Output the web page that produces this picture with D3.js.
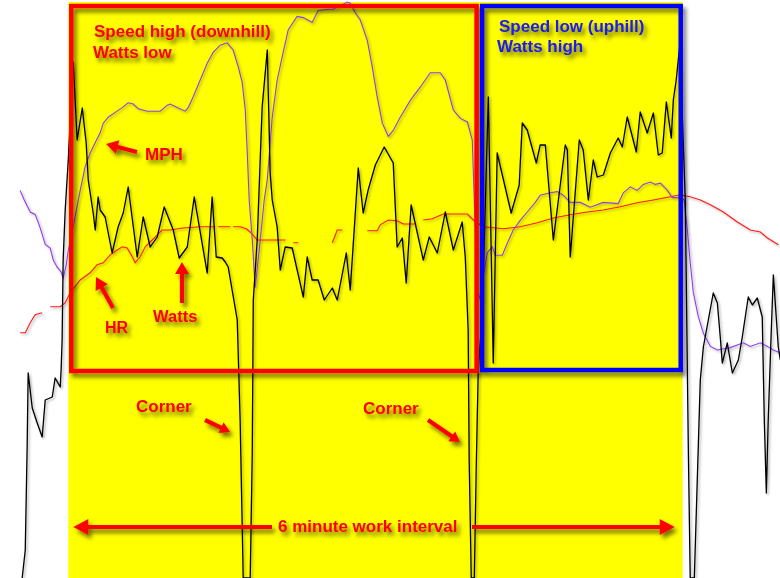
<!DOCTYPE html>
<html>
<head>
<meta charset="utf-8">
<script src="https://cdn.jsdelivr.net/npm/d3@7"></script>
<style>
  body { margin: 0; background: #fff; }
  svg { display: block; }
  text { font-family: "Liberation Sans", Arial, sans-serif; font-weight: bold; }
</style>
</head>
<body>
<div id="chart"></div>
<script>

// DATA: [seconds from interval start, value]
var wattsData = [[-27.0,0],[-25.2,28],[-24.1,130],[-23.5,205],[-21.1,170],[-18.2,155],[-15.3,141],[-13.5,178],[-9.4,181],[-7.7,200],[-4.7,191],[-4.2,208],[-3.6,238],[-3.0,318],[-1.8,368],[0,418],[1.1,456],[2.9,516],[5.2,438],[8.2,470],[10.5,435],[11.7,398],[14.6,365],[15.8,348],[17.5,381],[18.7,368],[21.6,361],[25.7,325],[29.2,351],[32.2,365],[35.1,391],[40.4,321],[43.9,361],[48.0,331],[52.1,341],[56.2,371],[61.5,348],[65.0,320],[69.7,331],[73.8,381],[81.4,305],[84.3,381],[86.7,321],[90.2,320],[92.0,316],[93.7,311],[99.0,258],[100.7,158],[102.5,0],[106.6,0],[107.8,125],[108.4,278],[110.7,338],[113.6,471],[116.6,528],[118.3,405],[119.5,378],[122.4,351],[124.2,308],[127.1,331],[131.2,330],[137.7,281],[140.0,321],[142.9,298],[146.4,298],[150.0,278],[154.7,290],[157.6,278],[162.9,325],[165.2,288],[169.9,410],[172.8,365],[175.7,388],[179.9,413],[185.1,431],[190.4,415],[192.7,331],[195.7,340],[198.0,295],[200.9,373],[208.0,318],[211.5,341],[216.2,325],[220.9,366],[225.6,328],[230.8,356],[232.6,321],[234.3,248],[234.9,118],[236.1,0],[237.9,0],[239.0,108],[240.2,208],[242.5,261],[246.1,481],[249.0,215],[251.3,425],[259.5,365],[264.2,393],[266.0,455],[268.9,448],[274.2,415],[276.5,433],[279.5,433],[284.2,338],[291.2,433],[292.4,428],[294.1,321],[299.4,438],[301.7,428],[304.7,378],[307.6,418],[309.9,401],[313.5,403],[317.6,425],[322.2,440],[324.6,431],[327.5,461],[332.8,426],[335.1,466],[339.2,445],[342.8,465],[345.7,423],[348.0,425],[350.4,476],[353.3,440],[354.5,478],[356.2,498],[358.3,533],[361.5,378],[363.3,128],[364.4,0],[366.8,0],[370.3,198],[372.1,231],[377.9,285],[380.3,275],[382.0,241],[383.2,215],[386.1,235],[389.1,205],[392.6,218],[394.9,241],[398.4,281],[400.8,273],[403.7,280],[406.6,261],[407.8,158],[409.0,85],[410.1,158],[411.9,248],[413.1,303],[416.0,231],[417.2,218]]

var mphData = [[-28.2,32.3],[-25.8,31.5],[-22.3,30.5],[-19.4,30.3],[-16.5,29.2],[-13.5,27.8],[-10.6,27.5],[-8.8,26.5],[-6.5,25.9],[-4.2,25.5],[-3.0,25.0],[-1.2,26.1],[0,27.3],[2.9,29.3],[7.0,32.3],[9.9,34.3],[12.8,35.4],[15.8,36.3],[18.7,37.1],[20.5,37.9],[23.4,38.4],[27.5,38.8],[31.6,39.2],[35.1,39.6],[38.0,39.5],[41.0,39.1],[46.2,38.9],[53.9,38.9],[58.0,39.4],[59.7,39.5],[63.8,39.2],[68.5,38.9],[70.3,39.2],[73.2,40.1],[77.3,41.5],[81.4,42.9],[84.9,43.8],[89.0,44.4],[93.1,44.6],[96.6,44.0],[99.6,42.6],[101.9,41.3],[103.7,39.0],[104.8,35.7],[106.0,31.5],[107.8,28.2],[109.5,24.2],[112.5,28.2],[114.8,31.5],[116.6,33.2],[119.5,38.4],[122.4,41.5],[125.9,43.8],[128.9,45.7],[134.1,46.8],[137.7,46.7],[142.9,46.3],[146.4,47.3],[152.3,47.4],[155.2,47.4],[163.4,48.0],[165.2,47.9],[168.1,47.1],[171.1,46.5],[175.2,44.8],[178.1,42.6],[181.0,40.1],[184.0,37.9],[187.5,36.8],[190.4,37.3],[194.5,38.4],[200.4,39.8],[206.2,40.9],[212.1,42.1],[217.9,42.1],[220.9,41.5],[225.6,39.0],[229.7,38.3],[233.8,38.0],[236.7,36.5],[237.9,31.5],[239.6,24.0],[241.4,23.2],[243.1,25.1],[245.5,27.1],[248.4,27.6],[250.2,26.9],[254.3,26.9],[257.2,27.9],[260.7,29.0],[264.8,29.8],[268.9,30.5],[273.6,31.3],[276.5,31.9],[282.4,32.1],[286.5,32.2],[290.0,31.9],[294.1,31.3],[300.0,31.3],[305.8,30.9],[313.5,31.3],[322.2,31.2],[325.2,32.1],[329.3,32.6],[333.4,32.3],[336.9,32.8],[341.0,33.0],[343.9,32.8],[346.9,32.9],[351.0,32.3],[353.9,31.7],[358.6,31.7],[360.9,31.5],[362.7,29.0],[364.4,26.3],[366.2,23.8],[369.1,21.8],[372.1,20.4],[376.2,19.3],[380.3,19.0],[387.9,19.2],[395.5,19.6],[399.6,19.3],[405.5,19.6],[409.6,19.3],[413.1,19.0],[416.6,18.8]]

// null = dropout in the heart rate signal
var hrData = [[-28.2,131.3],[-25.2,131.3],[-22.3,133.8],[-19.4,135.8],[-15.3,136.3],[-13,null],[-10.6,137.8],[-4.7,137.8],[-1.8,138.8],[1.1,141.3],[7.0,144.5],[12.8,146.3],[16.9,148.3],[20.5,148.8],[24.6,150.8],[28.7,152.0],[31.6,152.8],[34.5,152.5],[37.5,150.3],[39.2,148.8],[42.1,150.3],[45.1,152.8],[49.2,154.5],[52.1,155.8],[55.0,157.0],[59.7,157.0],[67.3,157.5],[77.3,157.8],[86.1,157.8],[87,null],[87.8,157.8],[94.9,157.8],[95.7,null],[96.6,157.8],[100.7,157.8],[104.3,157.3],[106.6,156.5],[110.7,154.5],[127.1,154.5],[129,null],[131.8,153.8],[134.7,153.8],[145,null],[154.7,153.8],[157.6,157.0],[160.5,157.0],[168,null],[175.2,156.8],[181.0,156.8],[182.8,158.3],[187.5,159.5],[192.7,159.3],[196.3,158.5],[203.3,158.5],[205.5,null],[208.0,159.5],[213.3,159.8],[219.7,161.0],[233.8,161.0],[237.3,159.5],[243.1,157.8],[254.9,157.3],[264.8,157.8],[274.8,158.8],[284.2,160.0],[294.1,160.8],[304.1,161.5],[313.5,162.0],[323.4,162.8],[333.4,163.8],[342.8,164.5],[352.7,165.3],[358.6,165.8],[364.4,165.3],[370.3,164.5],[376.2,163.3],[383.8,161.5],[392.0,159.0],[399.6,157.0],[405.5,156.5],[409.6,155.0],[416.0,153.3]]

var intervalStart = 0, intervalEnd = 360   // 6 minute work interval
var phaseStart = [0, 241]
var phaseEnd = [241, 360]
var phaseTitle = ["Speed high (downhill)", "Speed low (uphill)"]
var phaseSub = ["Watts low", "Watts high"]

var width = 780, height = 578

// SCALES
var x = d3.scaleLinear().domain([-40, 417]).range([0, width])
var yWatts = d3.scaleLinear().domain([0, 600]).range([height, -22])
var yMph = d3.scaleLinear().domain([0, 50]).range([height, -22])
var yHr = d3.scaleLinear().domain([70, 220]).range([height, -22])

// CREATE DOM ELEMENTS
var svg = d3.select("#chart").append("svg")
  .attr("width", width)
  .attr("height", height)

var defs = svg.append("defs")
defs.append("filter").attr("id", "shadow")
    .attr("x", "-30%").attr("y", "-30%").attr("width", "170%").attr("height", "170%")
  .append("feDropShadow")
    .attr("dx", 3).attr("dy", 4).attr("stdDeviation", 2.2)
    .attr("flood-color", "#000").attr("flood-opacity", 0.55)
defs.append("filter").attr("id", "lineShadow")
    .attr("x", "-5%").attr("y", "-5%").attr("width", "110%").attr("height", "110%")
  .append("feDropShadow")
    .attr("dx", 1.5).attr("dy", 1.5).attr("stdDeviation", 1)
    .attr("flood-color", "#000").attr("flood-opacity", 0.35)

svg.append("rect")
  .attr("width", width).attr("height", height).attr("fill", "#fff")

// yellow work interval
svg.append("rect")
  .attr("x", x(intervalStart))
  .attr("y", 2)
  .attr("width", x(intervalEnd) - x(intervalStart))
  .attr("height", height - 2)
  .attr("fill", "#ffff00")

// LINES
var lines = svg.append("g").attr("class", "lines").attr("filter", "url(#lineShadow)")

lines.append("path")
  .datum(hrData)
  .attr("fill", "none")
  .attr("stroke", "#ff1a1a")
  .attr("stroke-width", 1.1)
  .attr("d", d3.line().defined(d => d[1] != null).x(d => x(d[0])).y(d => yHr(d[1])))

lines.append("path")
  .datum(mphData)
  .attr("fill", "none")
  .attr("stroke", "#8f3cf5")
  .attr("stroke-width", 1.1)
  .attr("d", d3.line().x(d => x(d[0])).y(d => yMph(d[1])))

lines.append("path")
  .datum(wattsData)
  .attr("fill", "none")
  .attr("stroke", "#000")
  .attr("stroke-width", 1.3)
  .attr("stroke-linejoin", "round")
  .attr("d", d3.line().x(d => x(d[0])).y(d => yWatts(d[1])))

// PHASE BOXES
var boxColor = ["#ff0000", "#0000ff"]
var textColor = ["#ff0000", "#1a1aee"]
var ann = svg.append("g").attr("filter", "url(#shadow)")

phaseStart.forEach(function(s, i) {
  var x0 = x(s) + (i == 0 ? 3 : 2.5)
  var x1 = x(phaseEnd[i]) - (i == 0 ? 3 : 2)
  ann.append("rect")
    .attr("x", x0).attr("y", 6)
    .attr("width", x1 - x0)
    .attr("height", i == 0 ? 365 : 364)
    .attr("fill", "none")
    .attr("stroke", boxColor[i])
    .attr("stroke-width", 4.5)
})

// ANNOTATIONS
var labels = [
  {text: phaseTitle[0], x: 94, y: 37, size: 17, color: textColor[0]},
  {text: phaseSub[0], x: 93, y: 58, size: 17, color: textColor[0]},
  {text: phaseTitle[1], x: 499, y: 32, size: 17, color: textColor[1]},
  {text: phaseSub[1], x: 497, y: 52, size: 17, color: textColor[1]},
  {text: "MPH", x: 145, y: 160, size: 17, color: textColor[0]},
  {text: "HR", x: 105, y: 333, size: 16, color: textColor[0]},
  {text: "Watts", x: 153, y: 322, size: 16.5, color: textColor[0]},
  {text: "Corner", x: 136, y: 412, size: 17, color: textColor[0]},
  {text: "Corner", x: 363, y: 414, size: 17, color: textColor[0]},
  {text: "6 minute work interval", x: 278, y: 532, size: 17, color: textColor[0]}
]

ann.selectAll(".label")
  .data(labels)
  .enter().append("text")
    .attr("class", "label")
    .attr("x", d => d.x)
    .attr("y", d => d.y)
    .style("font-size", d => d.size + "px")
    .attr("fill", d => d.color)
    .text(d => d.text)

// arrows: tail -> tip
var arrows = [
  {x1: 137, y1: 152, x2: 106, y2: 144, hl: 12, hw: 7},
  {x1: 113, y1: 308, x2: 96, y2: 277, hl: 12, hw: 7},
  {x1: 182, y1: 303, x2: 182, y2: 262, hl: 12, hw: 7},
  {x1: 205, y1: 420, x2: 230, y2: 432, hl: 10, hw: 6},
  {x1: 428, y1: 420, x2: 460, y2: 442, hl: 10, hw: 6},
  {x1: 272, y1: 527, x2: x(intervalStart) + 5, y2: 527, hl: 15, hw: 8},
  {x1: 472, y1: 527, x2: x(intervalEnd) - 8, y2: 527, hl: 15, hw: 8}
]

function arrowPath(d) {
  var dx = d.x2 - d.x1, dy = d.y2 - d.y1
  var len = Math.sqrt(dx * dx + dy * dy)
  var ux = dx / len, uy = dy / len, nx = -uy, ny = ux
  var sw = 2.1
  var bx = d.x2 - ux * d.hl, by = d.y2 - uy * d.hl
  var p = [
    [d.x1 + nx * sw, d.y1 + ny * sw],
    [bx + nx * sw, by + ny * sw],
    [bx + nx * d.hw, by + ny * d.hw],
    [d.x2, d.y2],
    [bx - nx * d.hw, by - ny * d.hw],
    [bx - nx * sw, by - ny * sw],
    [d.x1 - nx * sw, d.y1 - ny * sw]
  ]
  return "M" + p.map(q => q[0].toFixed(1) + "," + q[1].toFixed(1)).join("L") + "Z"
}

ann.selectAll(".arrow")
  .data(arrows)
  .enter().append("path")
    .attr("class", "arrow")
    .attr("d", arrowPath)
    .attr("fill", "#ff0000")

</script>
</body>
</html>
